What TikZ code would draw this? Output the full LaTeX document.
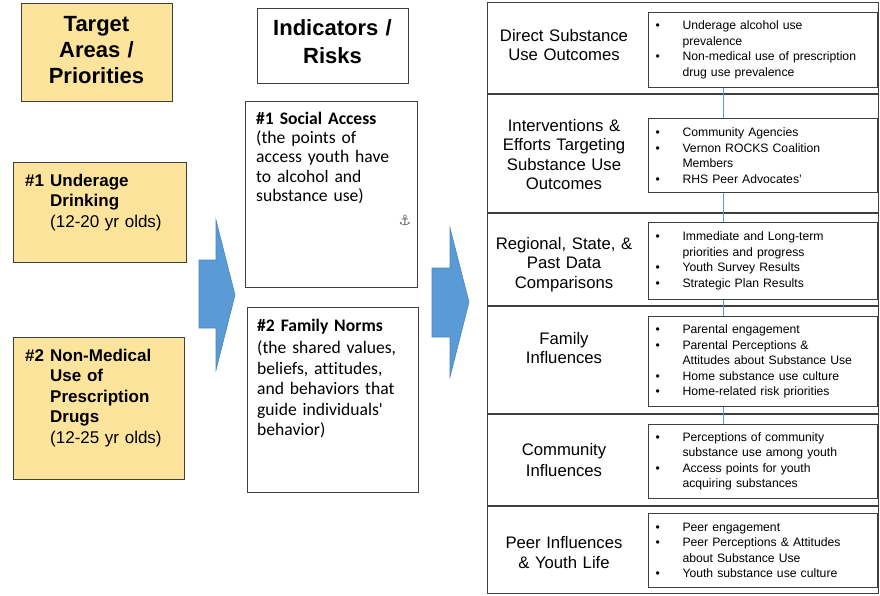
\documentclass[tikz,border=0pt]{standalone}
\usepackage{fontspec}
\setmainfont{Liberation Sans}
\newfontfamily\calfont[Ligatures=NoCommon]{Carlito}
\newfontfamily\symfont{DejaVu Sans}
\definecolor{yfill}{HTML}{FCE49C}
\definecolor{edgegray}{HTML}{3F3F3F}
\definecolor{arrowblue}{HTML}{5B9BD5}
\definecolor{arrowedge}{HTML}{4A86BE}
\definecolor{linkblue}{HTML}{5B9BD5}
\newcommand\bulpt{\makebox[27pt][l]{\textbullet}}
\newcommand\bulind{\hspace*{27pt}}
\tikzset{
  yellowbox/.style={draw=edgegray, line width=1.1pt, fill=yfill, anchor=north west, inner sep=0pt},
  whitebox/.style={draw=edgegray, line width=1pt, fill=white, anchor=north west, inner sep=0pt},
  rowline/.style={draw=edgegray, line width=1.1pt},
  bulletbox/.style={draw=edgegray, line width=1pt, fill=white, text width=215pt, align=left,
    inner xsep=7pt, inner ysep=0pt, anchor=north west, font=\fontsize{12.2}{15.5}\selectfont},
  rowlabel/.style={text width=150pt, align=center, anchor=base, inner sep=0pt,
    font=\fontsize{16.7}{19.5}\selectfont},
  bigtitle/.style={text width=150pt, align=center, anchor=base, inner sep=0pt},
  prio/.style={text width=165pt, align=left, anchor=base west, inner sep=0pt,
    font=\fontsize{17}{20.5}\selectfont},
  risk/.style={text width=160pt, align=left, anchor=base west, inner sep=0pt},
  bigarrow/.style={fill=arrowblue, draw=arrowedge, line width=0.6pt, line join=miter},
  linkline/.style={draw=linkblue, line width=1pt},
}
\begin{document}
\begin{tikzpicture}[x=1pt,y=-1pt]
\useasboundingbox (0,0) rectangle (880,595);

% ---------- left column ----------
\node[yellowbox, minimum width=151pt, minimum height=98pt] (tgt) at (21,3) {};
\node[bigtitle, font=\fontsize{22}{26}\selectfont\bfseries] (tgttxt) at (96.5,31)
  {Target\\Areas /\\Priorities};

\node[yellowbox, minimum width=173pt, minimum height=100pt] (u1) at (13,162) {};
\node[prio] (u1txt) at ([xshift=12pt,yshift=-24pt]u1.north west)
  {\makebox[25pt][l]{\bfseries\#1}\textbf{Underage}\\
   \hspace*{25pt}\textbf{Drinking}\\
   \hspace*{25pt}(12-20 yr olds)};

\node[yellowbox, minimum width=171pt, minimum height=142pt] (u2) at (13,337) {};
\node[prio] (u2txt) at ([xshift=12pt,yshift=-24pt]u2.north west)
  {\makebox[25pt][l]{\bfseries\#2}\textbf{Non-Medical}\\
   \hspace*{25pt}\textbf{Use of}\\
   \hspace*{25pt}\textbf{Prescription}\\
   \hspace*{25pt}\textbf{Drugs}\\
   \hspace*{25pt}(12-25 yr olds)};

% ---------- arrows ----------
\path[bigarrow] (199,260) -- (216,260) -- (216,220) -- (235,295) -- (216,370) -- (216,328) -- (199,328) -- cycle;
\path[bigarrow] (432,268) -- (450,268) -- (450,228) -- (469,302) -- (450,377) -- (450,337) -- (432,337) -- cycle;

% ---------- middle column ----------
\node[whitebox, minimum width=151pt, minimum height=75pt] (ind) at (257,8) {};
\node[bigtitle, font=\fontsize{22}{28}\selectfont\bfseries] (indtxt) at (332.5,35)
  {Indicators /\\Risks};

\node[whitebox, minimum width=172pt, minimum height=186pt] (r1) at (245,101) {};
\node[risk, font=\calfont\fontsize{17.6}{19.4}\selectfont] (r1txt) at ([xshift=11pt,yshift=-23pt]r1.north west)
  {\textbf{\#1 Social Access}\\
   (the points of\\
   access youth have\\
   to alcohol and\\
   substance use)};
\node[inner sep=0pt, text=gray!80!black, font=\symfont\fontsize{14}{14}\selectfont] (anchorsym) at (405,220) {⚓};

\node[whitebox, minimum width=171pt, minimum height=185pt] (r2) at (247,307) {};
\node[risk, font=\calfont\fontsize{17.6}{20.5}\selectfont] (r2txt) at ([xshift=10pt,yshift=-24pt]r2.north west)
  {\textbf{\#2 Family Norms}\\[2pt]
   (the shared values,\\
   beliefs, attitudes,\\
   and behaviors that\\
   guide individuals'\\
   behavior)};

% ---------- right panel ----------
\node[whitebox, line width=1.1pt, minimum width=391pt, minimum height=591pt] (panel) at (487,2) {};
\foreach \dy in {92,211,304,412,504}
  \draw[rowline] ([yshift=-\dy pt]panel.north west) -- ([yshift=-\dy pt]panel.north east);

\node[bulletbox, minimum height=75pt] (b1) at (648,12)
  {\bulpt Underage alcohol use\\ \bulind prevalence\\
   \bulpt Non-medical use of prescription\\ \bulind drug use prevalence};
\node[bulletbox, minimum height=74pt] (b5) at (648,424)
  {\bulpt Perceptions of community\\ \bulind substance use among youth\\
   \bulpt Access points for youth\\ \bulind acquiring substances};
\draw[linkline] ([xshift=75pt]b1.south west) -- ([xshift=75pt]b5.north west);
\node[bulletbox, minimum height=74pt] (b2) at (648,118)
  {\bulpt Community Agencies\\
   \bulpt Vernon ROCKS Coalition\\ \bulind Members\\
   \bulpt RHS Peer Advocates'};
\node[bulletbox, minimum height=77pt] (b3) at (648,222)
  {\bulpt Immediate and Long-term\\ \bulind priorities and progress\\
   \bulpt Youth Survey Results\\
   \bulpt Strategic Plan Results};
\node[bulletbox, minimum height=90pt] (b4) at (648,316)
  {\bulpt Parental engagement\\
   \bulpt Parental Perceptions \&\\ \bulind Attitudes about Substance Use\\
   \bulpt Home substance use culture\\
   \bulpt Home-related risk priorities};
\node[bulletbox, minimum height=74pt] (b6) at (648,513)
  {\bulpt Peer engagement\\
   \bulpt Peer Perceptions \& Attitudes\\ \bulind about Substance Use\\
   \bulpt Youth substance use culture};

\node[rowlabel] (l1) at (564,41) {Direct Substance\\Use Outcomes};
\node[rowlabel] (l2) at (564,131) {Interventions \&\\Efforts Targeting\\Substance Use\\Outcomes};
\node[rowlabel] (l3) at (564,249) {Regional, State, \&\\Past Data\\Comparisons};
\node[rowlabel] (l4) at (564,344) {Family\\Influences};
\node[rowlabel, font=\fontsize{16.7}{21}\selectfont] (l5) at (564,455) {Community\\Influences};
\node[rowlabel, font=\fontsize{16.7}{20.5}\selectfont] (l6) at (564,548) {Peer Influences\\\& Youth Life};
\end{tikzpicture}
\end{document}
